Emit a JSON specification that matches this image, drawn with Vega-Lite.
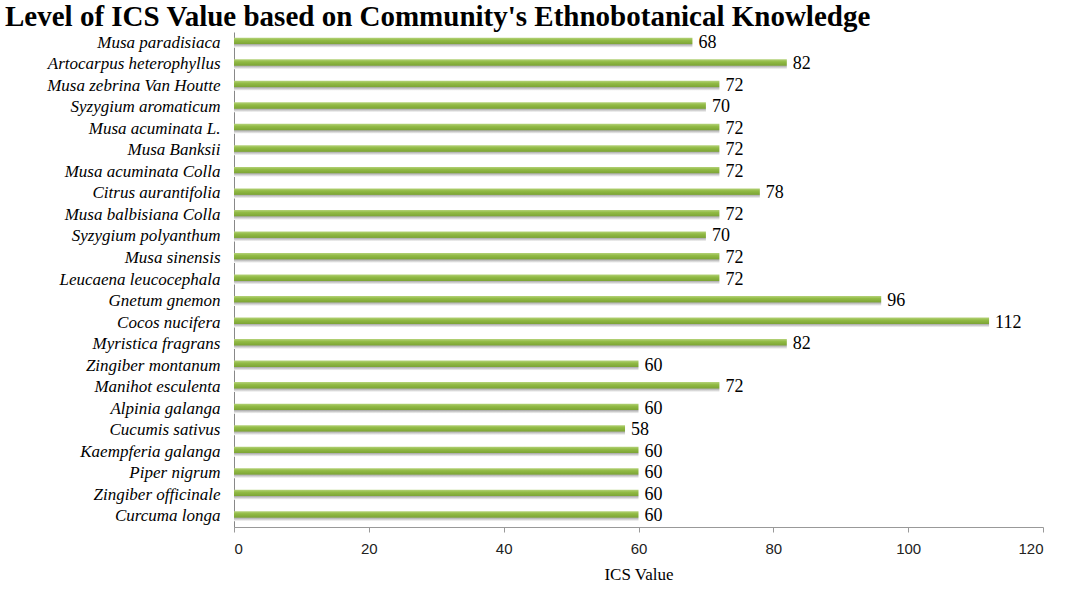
{
  "$schema": "https://vega.github.io/schema/vega-lite/v6.json",
  "autosize": "none",
  "width": 809,
  "height": 495,
  "padding": {"left": 234, "top": 32, "right": 24, "bottom": 76},
  "background": "white",
  "title": {
    "text": "Level of ICS Value based on Community's Ethnobotanical Knowledge",
    "anchor": "start",
    "frame": "group",
    "orient": "top",
    "baseline": "alphabetic",
    "offset": -23,
    "dx": -229,
    "font": "Liberation Serif",
    "fontSize": 29,
    "fontWeight": "bold",
    "color": "black"
  },
  "config": {
    "font": "Liberation Serif",
    "view": {"stroke": null}
  },
  "data": {
    "values": [
      {"species": "Musa paradisiaca", "ics": 68},
      {"species": "Artocarpus heterophyllus", "ics": 82},
      {"species": "Musa zebrina Van Houtte", "ics": 72},
      {"species": "Syzygium aromaticum", "ics": 70},
      {"species": "Musa acuminata L.", "ics": 72},
      {"species": "Musa Banksii", "ics": 72},
      {"species": "Musa acuminata Colla", "ics": 72},
      {"species": "Citrus aurantifolia", "ics": 78},
      {"species": "Musa balbisiana Colla", "ics": 72},
      {"species": "Syzygium polyanthum", "ics": 70},
      {"species": "Musa sinensis", "ics": 72},
      {"species": "Leucaena leucocephala", "ics": 72},
      {"species": "Gnetum gnemon", "ics": 96},
      {"species": "Cocos nucifera", "ics": 112},
      {"species": "Myristica fragrans", "ics": 82},
      {"species": "Zingiber montanum", "ics": 60},
      {"species": "Manihot esculenta", "ics": 72},
      {"species": "Alpinia galanga", "ics": 60},
      {"species": "Cucumis sativus", "ics": 58},
      {"species": "Kaempferia galanga", "ics": 60},
      {"species": "Piper nigrum", "ics": 60},
      {"species": "Zingiber officinale", "ics": 60},
      {"species": "Curcuma longa", "ics": 60}
    ]
  },
  "encoding": {
    "y": {
      "field": "species",
      "type": "nominal",
      "sort": null,
      "title": null,
      "axis": {
        "ticks": false,
        "domainColor": "#888888",
        "labelFont": "Liberation Serif",
        "labelColor": "black",
        "labelFontSize": 17,
        "labelFontStyle": "italic",
        "labelPadding": 14
      }
    },
    "x": {
      "field": "ics",
      "type": "quantitative",
      "scale": {"domain": [0, 120]},
      "title": "ICS Value",
      "axis": {
        "values": [0, 20, 40, 60, 80, 100, 120],
        "grid": false,
        "domainColor": "#999999",
        "tickColor": "#999999",
        "tickSize": 5,
        "labelFont": "Liberation Sans",
        "labelColor": "#222222",
        "labelFontSize": 15,
        "labelPadding": 9,
        "titleFont": "Liberation Serif",
        "titleColor": "black",
        "titleFontSize": 17,
        "titleFontWeight": "normal",
        "titlePadding": 10
      }
    }
  },
  "layer": [
    {
      "mark": {
        "type": "bar",
        "height": 10,
        "color": {
          "gradient": "linear",
          "x1": 0, "y1": 0, "x2": 0, "y2": 1,
          "stops": [
            {"offset": 0, "color": "#b5d27a"},
            {"offset": 0.25, "color": "#92bb45"},
            {"offset": 0.6, "color": "#7ea636"},
            {"offset": 0.68, "color": "#b0b0b0"},
            {"offset": 1, "color": "#ffffff"}
          ]
        }
      }
    },
    {
      "mark": {"type": "text", "align": "left", "dx": 6, "dy": 0, "font": "Liberation Serif", "fontSize": 18, "color": "black"},
      "encoding": {"text": {"field": "ics", "type": "quantitative"}}
    }
  ]
}
